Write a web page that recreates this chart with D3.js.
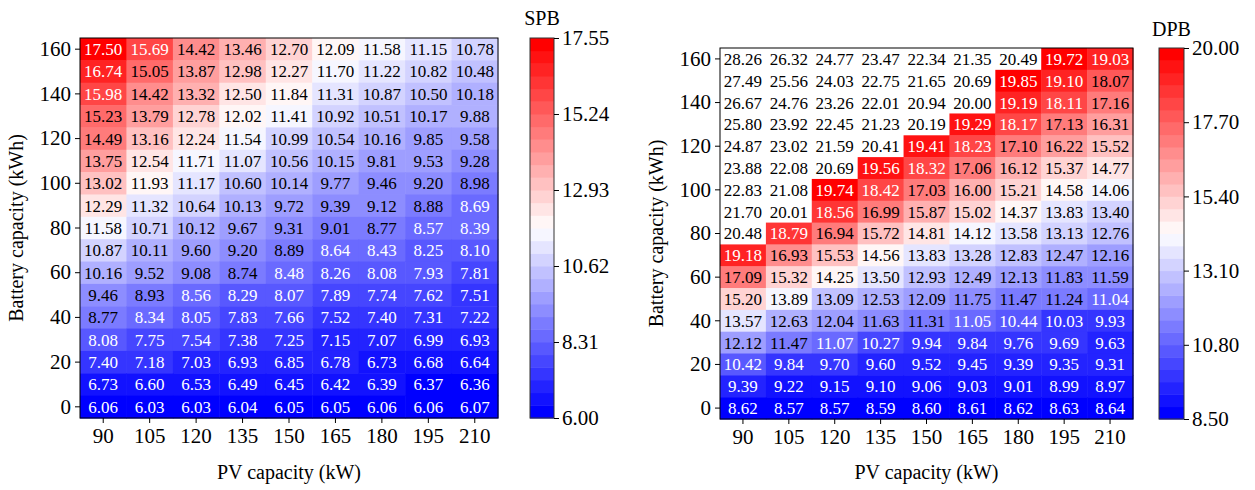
<!DOCTYPE html>
<html><head><meta charset="utf-8">
<script src="https://cdn.jsdelivr.net/npm/d3@7"></script>
<style>body{margin:0;background:#fff}svg{display:block}</style>
</head><body><svg id="c" width="1255" height="490"></svg>
<script>
// PV capacity (kW) categories (x) and battery capacity (kWh) categories (y, top to bottom)
const pvCapacity = [90, 105, 120, 135, 150, 165, 180, 195, 210];
const batteryCapacity = [160, 150, 140, 130, 120, 110, 100, 90, 80, 70, 60, 50, 40, 30, 20, 10, 0];
const yTickLabels = [0, 20, 40, 60, 80, 100, 120, 140, 160];

// SPB values: rows follow batteryCapacity (160 -> 0), columns follow pvCapacity
const spbValues = [
  [17.50,15.69,14.42,13.46,12.70,12.09,11.58,11.15,10.78],
  [16.74,15.05,13.87,12.98,12.27,11.70,11.22,10.82,10.48],
  [15.98,14.42,13.32,12.50,11.84,11.31,10.87,10.50,10.18],
  [15.23,13.79,12.78,12.02,11.41,10.92,10.51,10.17,9.88],
  [14.49,13.16,12.24,11.54,10.99,10.54,10.16,9.85,9.58],
  [13.75,12.54,11.71,11.07,10.56,10.15,9.81,9.53,9.28],
  [13.02,11.93,11.17,10.60,10.14,9.77,9.46,9.20,8.98],
  [12.29,11.32,10.64,10.13,9.72,9.39,9.12,8.88,8.69],
  [11.58,10.71,10.12,9.67,9.31,9.01,8.77,8.57,8.39],
  [10.87,10.11,9.60,9.20,8.89,8.64,8.43,8.25,8.10],
  [10.16,9.52,9.08,8.74,8.48,8.26,8.08,7.93,7.81],
  [9.46,8.93,8.56,8.29,8.07,7.89,7.74,7.62,7.51],
  [8.77,8.34,8.05,7.83,7.66,7.52,7.40,7.31,7.22],
  [8.08,7.75,7.54,7.38,7.25,7.15,7.07,6.99,6.93],
  [7.40,7.18,7.03,6.93,6.85,6.78,6.73,6.68,6.64],
  [6.73,6.60,6.53,6.49,6.45,6.42,6.39,6.37,6.36],
  [6.06,6.03,6.03,6.04,6.05,6.05,6.06,6.06,6.07]
];
// DPB values
const dpbValues = [
  [28.26,26.32,24.77,23.47,22.34,21.35,20.49,19.72,19.03],
  [27.49,25.56,24.03,22.75,21.65,20.69,19.85,19.10,18.07],
  [26.67,24.76,23.26,22.01,20.94,20.00,19.19,18.11,17.16],
  [25.80,23.92,22.45,21.23,20.19,19.29,18.17,17.13,16.31],
  [24.87,23.02,21.59,20.41,19.41,18.23,17.10,16.22,15.52],
  [23.88,22.08,20.69,19.56,18.32,17.06,16.12,15.37,14.77],
  [22.83,21.08,19.74,18.42,17.03,16.00,15.21,14.58,14.06],
  [21.70,20.01,18.56,16.99,15.87,15.02,14.37,13.83,13.40],
  [20.48,18.79,16.94,15.72,14.81,14.12,13.58,13.13,12.76],
  [19.18,16.93,15.53,14.56,13.83,13.28,12.83,12.47,12.16],
  [17.09,15.32,14.25,13.50,12.93,12.49,12.13,11.83,11.59],
  [15.20,13.89,13.09,12.53,12.09,11.75,11.47,11.24,11.04],
  [13.57,12.63,12.04,11.63,11.31,11.05,10.44,10.03,9.93],
  [12.12,11.47,11.07,10.27,9.94,9.84,9.76,9.69,9.63],
  [10.42,9.84,9.70,9.60,9.52,9.45,9.39,9.35,9.31],
  [9.39,9.22,9.15,9.10,9.06,9.03,9.01,8.99,8.97],
  [8.62,8.57,8.57,8.59,8.60,8.61,8.62,8.63,8.64]
];
const spbRange = [6.00, 17.55];
const dpbRange = [8.50, 20.00];
const spbTicks = [6.00, 8.31, 10.62, 12.93, 15.24, 17.55];
const dpbTicks = [8.50, 10.80, 13.10, 15.40, 17.70, 20.00];

const NLEV = 30;
const FONT = '"Liberation Serif"';
const svg = d3.select("#c").style("font-family", FONT);

function bwr(t) {
  let r, g, b;
  if (t <= 0.5) { const s = t / 0.5; r = s; g = s; b = 1; }
  else { const s = (t - 0.5) / 0.5; r = 1; g = 1 - s; b = 1 - s; }
  return d3.rgb(r * 255, g * 255, b * 255).formatHex();
}

function txt(sel, size) {
  return sel.style("font-family", FONT).style("font-size", size + "px").attr("fill", "#000");
}

function drawPanel(cfg) {
  const {values, range, ticks, title, box, cbar, titleY} = cfg;
  const [vmin, vmax] = range;
  const x = d3.scaleBand().domain(pvCapacity).range([box.x0, box.x1]).padding(0);
  const y = d3.scaleBand().domain(batteryCapacity).range([box.y0, box.y1]).padding(0);
  const norm = d3.scaleLinear().domain([vmin, vmax]).range([0, 1]);
  const level = v => Math.max(0, Math.min(NLEV - 1, Math.floor(norm(v) * NLEV)));
  const colorOf = v => v >= vmax ? "#ffffff" : bwr(level(v) / (NLEV - 1));
  const textCol = v => {
    if (v >= vmax) return "#000";
    const l = level(v);
    return (l <= 6 || l >= 25) ? "#fff" : "#000";
  };
  const cells = [];
  values.forEach((row, i) => row.forEach((v, j) => cells.push({b: batteryCapacity[i], p: pvCapacity[j], v})));
  const g = svg.append("g");
  g.selectAll("rect.cell").data(cells).enter().append("rect")
    .attr("x", d => x(d.p)).attr("y", d => y(d.b))
    .attr("width", x.bandwidth() + 0.5).attr("height", y.bandwidth() + 0.5)
    .attr("fill", d => colorOf(d.v));
  txt(g.selectAll("text.val").data(cells).enter().append("text"), 17)
    .attr("x", d => x(d.p) + x.bandwidth() / 2).attr("y", d => y(d.b) + y.bandwidth() / 2)
    .attr("dy", "0.35em").attr("text-anchor", "middle")
    .attr("fill", d => textCol(d.v))
    .text(d => d.v.toFixed(2));
  g.append("rect").attr("x", box.x0).attr("y", box.y0)
    .attr("width", box.x1 - box.x0).attr("height", box.y1 - box.y0)
    .attr("fill", "none").attr("stroke", "#000").attr("stroke-width", 1);

  const xAxis = d3.axisBottom(x).tickSizeOuter(0).tickSize(5).tickPadding(5);
  const xg = g.append("g").attr("transform", `translate(0,${box.y1})`).call(xAxis);
  const yAxis = d3.axisLeft(y).tickValues(yTickLabels).tickSizeOuter(0).tickSize(5).tickPadding(4);
  const yg = g.append("g").attr("transform", `translate(${box.x0},0)`).call(yAxis);
  [xg, yg].forEach(a => {
    a.select(".domain").remove();
    txt(a.selectAll("text"), 21);
    a.selectAll("line").attr("stroke", "#000");
  });
  txt(g.append("text"), 20).attr("x", (box.x0 + box.x1) / 2).attr("y", 479)
    .attr("text-anchor", "middle").text("PV capacity (kW)");
  txt(g.append("text"), 20).attr("transform", `translate(${box.x0 - 57},${(box.y0 + box.y1) / 2}) rotate(-90)`)
    .attr("text-anchor", "middle").text("Battery capacity (kWh)");

  // colorbar
  const cy = d3.scaleLinear().domain([vmin, vmax]).range([cbar.y1, cbar.y0]);
  const levels = d3.range(NLEV);
  const step = (vmax - vmin) / NLEV;
  g.selectAll("rect.cb").data(levels).enter().append("rect")
    .attr("x", cbar.x0).attr("width", cbar.x1 - cbar.x0)
    .attr("y", l => cy(vmin + (l + 1) * step))
    .attr("height", l => cy(vmin + l * step) - cy(vmin + (l + 1) * step) + 0.5)
    .attr("fill", l => bwr(l / (NLEV - 1)));
  g.append("rect").attr("x", cbar.x0).attr("y", cbar.y0)
    .attr("width", cbar.x1 - cbar.x0).attr("height", cbar.y1 - cbar.y0)
    .attr("fill", "none").attr("stroke", "#333").attr("stroke-width", 1);
  const cAxis = d3.axisRight(cy).tickValues(ticks).tickFormat(d3.format(".2f")).tickSize(5).tickPadding(3).tickSizeOuter(0);
  const cg = g.append("g").attr("transform", `translate(${cbar.x1},0)`).call(cAxis);
  cg.select(".domain").remove();
  txt(cg.selectAll("text"), 21);
  cg.selectAll("line").attr("stroke", "#000");
  txt(g.append("text"), 20).attr("x", (cbar.x0 + cbar.x1) / 2).attr("y", titleY)
    .attr("text-anchor", "middle").text(title);
}

drawPanel({values: spbValues, range: spbRange, ticks: spbTicks, title: "SPB", titleY: 25,
  box: {x0: 80, x1: 498, y0: 38, y1: 418}, cbar: {x0: 530, x1: 554, y0: 38, y1: 418}});
drawPanel({values: dpbValues, range: dpbRange, ticks: dpbTicks, title: "DPB", titleY: 36,
  box: {x0: 720, x1: 1133, y0: 48, y1: 419}, cbar: {x0: 1159, x1: 1184, y0: 48, y1: 419}});
</script></body></html>
